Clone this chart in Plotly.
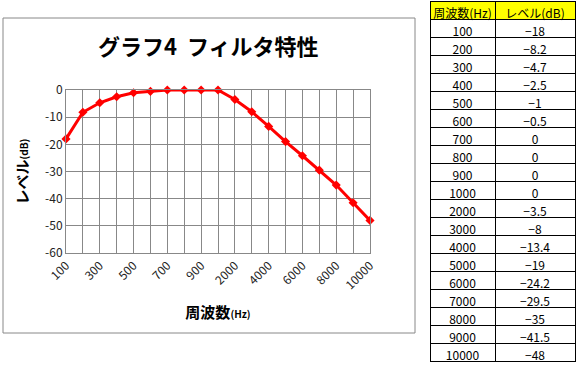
import plotly.graph_objects as go

freqs = [100, 200, 300, 400, 500, 600, 700, 800, 900, 1000,
         2000, 3000, 4000, 5000, 6000, 7000, 8000, 9000, 10000]
levels = [-18, -8.2, -4.7, -2.5, -1, -0.5, 0, 0, 0, 0,
          -3.5, -8, -13.4, -19, -24.2, -29.5, -35, -41.5, -48]
y_ticks = [0, -10, -20, -30, -40, -50, -60]
title_text = "グラフ4  フィルタ特性"
x_title = "周波数"
y_title = "レベル"
table_header = ["周波数(Hz)", "レベル(dB)"]

W, H = 578, 368
FONT = "Noto Sans CJK JP"

def px(x):
    return x / W

def py(y):
    return 1 - y / H

idx = list(range(len(freqs)))
major = idx[::2]

fig = go.Figure()
fig.add_trace(go.Scatter(
    x=idx, y=levels, mode="lines+markers",
    line=dict(color="#FF0000", width=3),
    marker=dict(symbol="diamond", size=7, color="#FF0000"),
    cliponaxis=False, showlegend=False, hoverinfo="skip",
))

def fmt(v):
    s = ("%g" % v)
    return s.replace("-", "−")

fig.add_trace(go.Table(
    domain=dict(x=[px(430), px(575)], y=[py(364), py(1)]),
    columnwidth=[65, 80],
    header=dict(values=table_header, fill_color="#FFFF00",
                line=dict(color="black", width=1), height=18,
                font=dict(family=FONT, size=12, color="black"), align="center"),
    cells=dict(values=[[str(f) for f in freqs], [fmt(v) for v in levels]],
               fill_color="white", line=dict(color="black", width=1), height=18,
               font=dict(family=FONT, size=12, color="black"), align="center"),
))

fig.update_layout(
    width=W, height=H, margin=dict(l=0, r=0, t=0, b=0, autoexpand=False),
    paper_bgcolor="white", plot_bgcolor="white",
    font=dict(family=FONT, color="black"),
    xaxis=dict(
        domain=[px(66), px(370)], range=[0, len(freqs) - 1], automargin=False,
        tickvals=major, ticktext=[str(freqs[i]) for i in major],
        tickangle=-45, tickfont=dict(size=12, color="#222"),
        showgrid=True, gridcolor="#888888", gridwidth=1,
        minor=dict(dtick=1, tick0=0, showgrid=True, gridcolor="#888888", gridwidth=1),
        showline=True, linecolor="#888888", mirror=True,
        zeroline=False, ticks="",
        title=dict(text="<b>" + x_title + "<span style='font-size:10px'>(Hz)</span></b>",
                   font=dict(size=15), standoff=16),
    ),
    yaxis=dict(
        domain=[py(253), py(90)], range=[-60, 0], automargin=False,
        tickvals=y_ticks, ticktext=[str(v) for v in y_ticks],
        tickfont=dict(size=12, color="#222"),
        showgrid=True, gridcolor="#888888", gridwidth=1,
        showline=True, linecolor="#888888", mirror=True,
        zeroline=False, ticks="",
        title=dict(text="<b>" + y_title + "<span style='font-size:10px'>(dB)</span></b>",
                   font=dict(size=15), standoff=12),
    ),
    shapes=[dict(type="rect", xref="paper", yref="paper",
                 x0=px(3), x1=px(415), y0=py(333), y1=py(18),
                 line=dict(color="#888888", width=1), fillcolor="rgba(0,0,0,0)",
                 layer="below")],
    annotations=[dict(text="<b>" + title_text + "</b>", xref="paper", yref="paper",
                      x=px(208), y=py(45), showarrow=False,
                      font=dict(size=22, family=FONT, color="black"),
                      xanchor="center", yanchor="middle")],
)

fig.write_html("out.html", config={"displayModeBar": False},
               post_script="document.body.style.margin='0';document.body.style.overflow='hidden';")
